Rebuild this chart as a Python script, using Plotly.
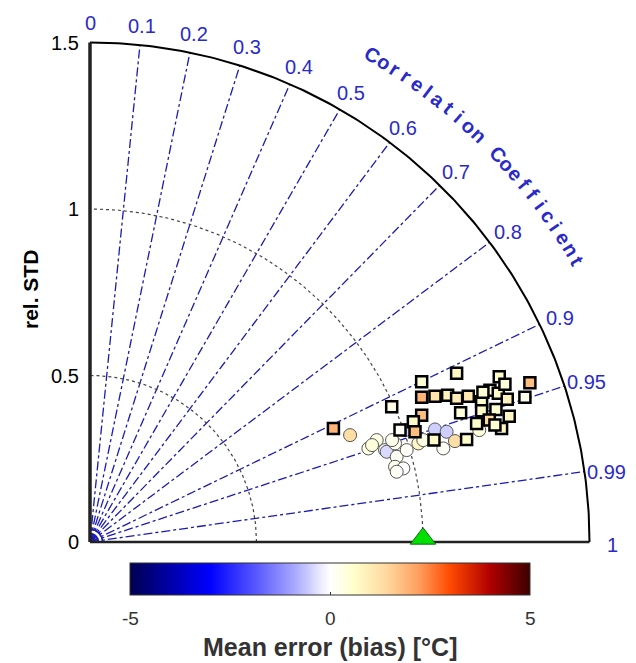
import numpy as np
import plotly.graph_objects as go

# ---------------- data ----------------
corr_ticks = [0, 0.1, 0.2, 0.3, 0.4, 0.5, 0.6, 0.7, 0.8, 0.9, 0.95, 0.99, 1]
corr_tick_labels = ["0", "0.1", "0.2", "0.3", "0.4", "0.5", "0.6", "0.7", "0.8", "0.9", "0.95", "0.99", "1"]
std_ticks = [0, 0.5, 1, 1.5]
std_tick_labels = ["0", "0.5", "1", "1.5"]
ref_std = 1.0

# squares (x = std*corr, y = std*sqrt(1-corr^2)), colour = bias
sq_x = [1.101, 1.229, 1.321, 0.996, 0.996, 1.036, 1.074, 1.101, 1.136, 1.176, 1.201, 1.226,
        1.253, 1.306, 1.113, 1.176, 1.219, 1.259, 1.161, 1.199, 1.236, 1.216, 1.131, 1.033,
        0.996, 0.971, 0.931, 0.976, 0.906, 0.731, 1.246, 1.180]
sq_y = [0.507, 0.496, 0.478, 0.481, 0.435, 0.438, 0.441, 0.432, 0.438, 0.421, 0.456, 0.447,
        0.429, 0.435, 0.388, 0.394, 0.398, 0.378, 0.356, 0.366, 0.341, 0.351, 0.308, 0.306,
        0.381, 0.361, 0.336, 0.331, 0.406, 0.341, 0.474, 0.450]
sq_bias = [0.8, 0.6, 1.8, 0.5, 1.9, 1.2, 0.9, 1.0, 1.1, 0.6, 0.5, 0.7,
           0.9, 0.2, 0.4, 0.7, 0.5, 0.8, 0.6, 1.4, 0.8, 0.5, 0.6, 0.7,
           1.8, 0.7, 0.1, 1.8, 0.3, 1.9, 0.4, 0.5]

ci_x = [0.781, 0.861, 0.836, 0.886, 0.891, 0.916, 0.921, 0.916, 0.941, 0.921, 0.951, 0.946,
        0.986, 1.001, 1.036, 1.071, 1.096, 1.061, 1.169, 0.907, 0.847]
ci_y = [0.321, 0.306, 0.281, 0.276, 0.271, 0.296, 0.256, 0.226, 0.221, 0.211, 0.276, 0.336,
        0.296, 0.306, 0.338, 0.331, 0.303, 0.281, 0.336, 0.306, 0.291]
ci_bias = [1.3, 0.3, 0.3, 0.1, -0.4, 0.2, 0.1, 0.2, 0.0, 0.1, 0.1, -0.5,
           0.8, 0.3, -0.5, -0.5, 1.3, 0.1, 0.4, 0.2, 0.4]

cbar_ticks = [-5, 0, 5]
cbar_title = "Mean error (bias) [°C]"

# ---------------- styling ----------------
BLUE = "#1c1cb0"
LBLUE = "#2a2ac8"
FONT = "Arial, Liberation Sans, sans-serif"
W, H = 636, 663
OX, OY, S = 90.0, 542.0, 333.0  # origin pixel & pixels per unit

colorscale = [
    [0.0, "#000050"], [0.1, "#0000a8"], [0.2, "#0000ff"], [0.32, "#5c5cff"],
    [0.42, "#b0b0ff"], [0.47, "#e4e4ff"], [0.5, "#ffffff"], [0.56, "#ffffcc"],
    [0.64, "#ffd9a0"], [0.72, "#ffa060"], [0.8, "#ff4a00"], [0.9, "#b00000"],
    [1.0, "#3c0000"],
]

fig = go.Figure()

# correlation rays
for c in corr_ticks[1:-1]:
    th = np.arccos(c)
    fig.add_trace(go.Scatter(x=[0, 1.5 * np.cos(th)], y=[0, 1.5 * np.sin(th)], mode="lines",
                             line=dict(color=BLUE, width=1.3, dash="dashdot"),
                             hoverinfo="skip", showlegend=False))
# tiny arcs near origin
t = np.linspace(0, np.pi / 2, 40)
for r in [0.012, 0.025, 0.038]:
    fig.add_trace(go.Scatter(x=r * np.cos(t), y=r * np.sin(t), mode="lines",
                             line=dict(color=BLUE, width=1.6), hoverinfo="skip", showlegend=False))

# std dotted arcs
t = np.linspace(0, np.pi / 2, 200)
for r in [0.5, 1.0]:
    fig.add_trace(go.Scatter(x=r * np.cos(t), y=r * np.sin(t), mode="lines",
                             line=dict(color="#444444", width=1.2, dash="dot"),
                             hoverinfo="skip", showlegend=False))
# outer arc
fig.add_trace(go.Scatter(x=1.5 * np.cos(t), y=1.5 * np.sin(t), mode="lines",
                         line=dict(color="black", width=2), hoverinfo="skip", showlegend=False))
# axes lines
fig.add_trace(go.Scatter(x=[0, 1.5], y=[0, 0], mode="lines",
                         line=dict(color="#222222", width=2.5), hoverinfo="skip", showlegend=False))
fig.add_trace(go.Scatter(x=[0, 0], y=[0, 1.5], mode="lines",
                         line=dict(color="#222222", width=3.5), hoverinfo="skip", showlegend=False))

# circles
fig.add_trace(go.Scatter(x=ci_x, y=ci_y, mode="markers",
                         marker=dict(symbol="circle", size=13, color=ci_bias, coloraxis="coloraxis",
                                     line=dict(color="#555555", width=1)),
                         showlegend=False))
# squares
fig.add_trace(go.Scatter(x=sq_x, y=sq_y, mode="markers",
                         marker=dict(symbol="square", size=11, color=sq_bias, coloraxis="coloraxis",
                                     line=dict(color="black", width=2.5)),
                         showlegend=False))
# reference
fig.add_trace(go.Scatter(x=[ref_std], y=[0.01], mode="markers",
                         marker=dict(symbol="triangle-up", size=22, color="#00e000",
                                     line=dict(color="#116611", width=1)),
                         showlegend=False))

ann = []
# std tick labels
for v, lab in zip(std_ticks, std_tick_labels):
    ann.append(dict(x=-0.028, y=v, text=lab, xanchor="right", yanchor="middle", showarrow=False,
                    font=dict(family=FONT, size=20, color="black")))
# corr tick labels
for c, lab in zip(corr_ticks, corr_tick_labels):
    th = np.arccos(c)
    ann.append(dict(x=1.568 * np.cos(th), y=1.568 * np.sin(th) - 0.01, text=lab, xanchor="center",
                    yanchor="middle", showarrow=False, font=dict(family=FONT, size=20, color=LBLUE)))
# curved title
title = "Correlation Coefficient"
a0, a1 = 59.9, 30.0
n = len(title)
for i, ch in enumerate(title):
    if ch == " ":
        continue
    a = np.deg2rad(a0 - i * (a0 - a1) / (n - 1))
    ann.append(dict(x=1.69 * np.cos(a), y=1.69 * np.sin(a), text=ch, showarrow=False,
                    xanchor="center", yanchor="middle", textangle=90 - np.rad2deg(a),
                    font=dict(family=FONT, size=20, color=LBLUE, weight="bold")))
# rel. STD
ann.append(dict(x=(30 - OX) / S, y=(OY - 290) / S, text="<b>rel. STD</b>", textangle=-90,
                showarrow=False, font=dict(family=FONT, size=21, color="black")))
# colorbar tick labels & title (paper coords)
for v in cbar_ticks:
    px = 130 + (v + 5) / 10 * 400
    ann.append(dict(xref="paper", yref="paper", x=px / W, y=1 - 618 / H, text=str(v),
                    showarrow=False, xanchor="center", yanchor="middle",
                    font=dict(family=FONT, size=19, color="#333333")))
ann.append(dict(xref="paper", yref="paper", x=330 / W, y=1 - 647 / H, text="<b>" + cbar_title + "</b>",
                showarrow=False, xanchor="center", yanchor="middle",
                font=dict(family=FONT, size=25, color="#333333")))

fig.update_layout(
    width=W, height=H, margin=dict(l=0, r=0, t=0, b=0),
    paper_bgcolor="white", plot_bgcolor="white",
    xaxis=dict(range=[-OX / S, (W - OX) / S], visible=False, fixedrange=True),
    yaxis=dict(range=[(OY - H) / S, OY / S], visible=False, fixedrange=True),
    annotations=ann,
    coloraxis=dict(cmin=-5, cmax=5, colorscale=colorscale,
                   colorbar=dict(orientation="h", x=330 / W, xanchor="center", y=1 - 563 / H,
                                 yanchor="top", len=400, lenmode="pixels", thickness=32,
                                 thicknessmode="pixels", outlinewidth=1, outlinecolor="#333333",
                                 tickvals=cbar_ticks, showticklabels=False, ticks="inside",
                                 ticklen=3, tickcolor="#333333", xpad=0, ypad=0)),
)

fig.write_html("out.html")
